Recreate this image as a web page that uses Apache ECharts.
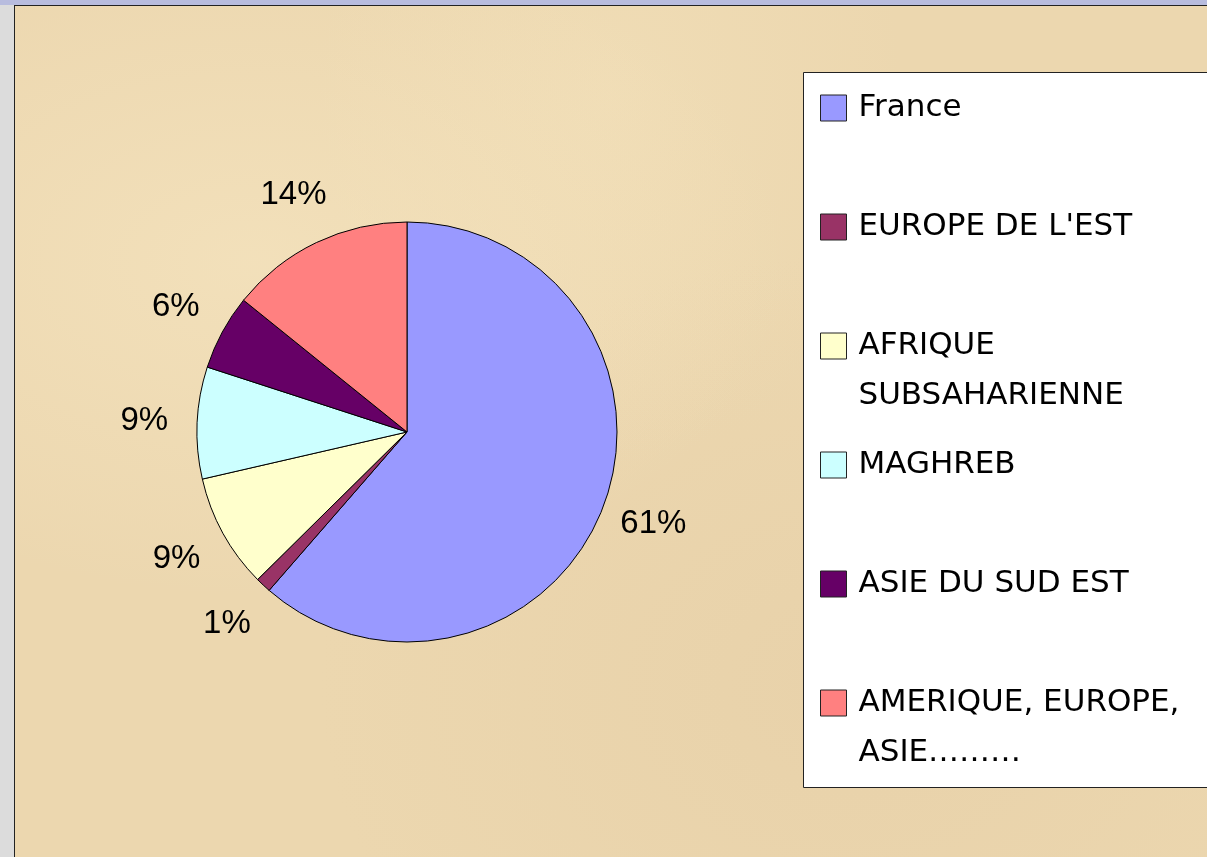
<!DOCTYPE html>
<html>
<head>
<meta charset="utf-8">
<script src="https://cdn.jsdelivr.net/npm/echarts@6/dist/echarts.min.js"></script>
<style>
  html, body { margin: 0; padding: 0; }
  body { width: 1207px; height: 857px; background: #dcdcdc; position: relative; overflow: hidden; }
  .topbar { position: absolute; left: 0; top: 0; width: 1207px; height: 5px; background: #b8bcde; }
  .paper {
    position: absolute; left: 14px; top: 5px; width: 1193px; height: 852px;
    border-left: 1px solid #222; border-top: 1px solid #222; box-sizing: border-box;
    background-color: #ecd7af;
    background-image:
      radial-gradient(ellipse at 20% 30%, rgba(250,235,200,0.45), rgba(250,235,200,0) 40%),
      radial-gradient(ellipse at 70% 80%, rgba(225,200,160,0.35), rgba(225,200,160,0) 45%),
      radial-gradient(ellipse at 50% 10%, rgba(245,228,190,0.4), rgba(245,228,190,0) 35%);
  }
  #chart { position: absolute; left: 0; top: 0; width: 1207px; height: 857px; }
</style>
</head>
<body>
<div class="topbar"></div>
<div class="paper"></div>
<div id="chart"></div>
<script>
  // Répartition (lecture du graphique)
  var categories = ['France', "EUROPE DE L'EST", 'AFRIQUE\nSUBSAHARIENNE', 'MAGHREB', 'ASIE DU SUD EST', 'AMERIQUE, EUROPE,\nASIE………'];
  var values = [61.4, 1.2, 8.8, 8.6, 5.8, 14.2];
  var colors = ['#9999ff', '#993366', '#ffffcc', '#ccffff', '#660066', '#ff8080'];

  var pieChart = echarts.init(document.getElementById('chart'));

  var pieData = categories.map(function (c, i) { return { name: c, value: values[i] }; });

  // une légende par entrée : pas régulier, icône alignée sur la 1re ligne
  var legends = [];
  for (var i = 0; i < categories.length; i++) {
    var twoLines = categories[i].indexOf('\n') >= 0;
    var h = twoLines ? 150 : 50;
    legends.push({
      data: [categories[i]],
      left: 820,
      top: 108 + i * 119 - h / 2,
      padding: 0,
      icon: 'rect',
      itemWidth: 26,
      itemHeight: 26,
      selectedMode: false,
      formatter: twoLines ? function (n) { return ' \n' + n; } : '{name}',
      itemStyle: { borderColor: '#222', borderWidth: 1 },
      textStyle: {
        fontFamily: 'DejaVu Sans',
        fontSize: 31,
        lineHeight: 50,
        color: '#000',
        padding: [0, 0, 0, 7]
      }
    });
  }

  var pieOption = {
    animation: false,
    color: colors,
    graphic: [{
      type: 'rect',
      shape: { x: 803.5, y: 72.5, width: 420, height: 715 },
      style: { fill: '#fff', stroke: '#222', lineWidth: 1 },
      z: -1
    }],
    legend: legends,
    series: [{
      type: 'pie',
      center: [407, 432],
      radius: 210,
      startAngle: 90,
      clockwise: true,
      data: pieData,
      itemStyle: { borderColor: '#000', borderWidth: 1 },
      label: { show: false },
      labelLine: { show: false },
      emphasis: { disabled: true }
    }, {
      // pie invisible : sert seulement à centrer les % autour du disque
      type: 'pie',
      center: [407, 432],
      radius: 520,
      startAngle: 90,
      clockwise: true,
      silent: true,
      z: 1,
      data: pieData,
      itemStyle: { color: 'rgba(0,0,0,0)', borderWidth: 0 },
      label: {
        show: true,
        position: 'inside',
        formatter: function (p) { return Math.round(p.percent) + '%'; },
        fontFamily: 'Liberation Sans',
        fontSize: 33,
        color: '#000'
      },
      labelLine: { show: false },
      emphasis: { disabled: true }
    }]
  };

  pieOption && pieChart.setOption(pieOption);
</script>
</body>
</html>
